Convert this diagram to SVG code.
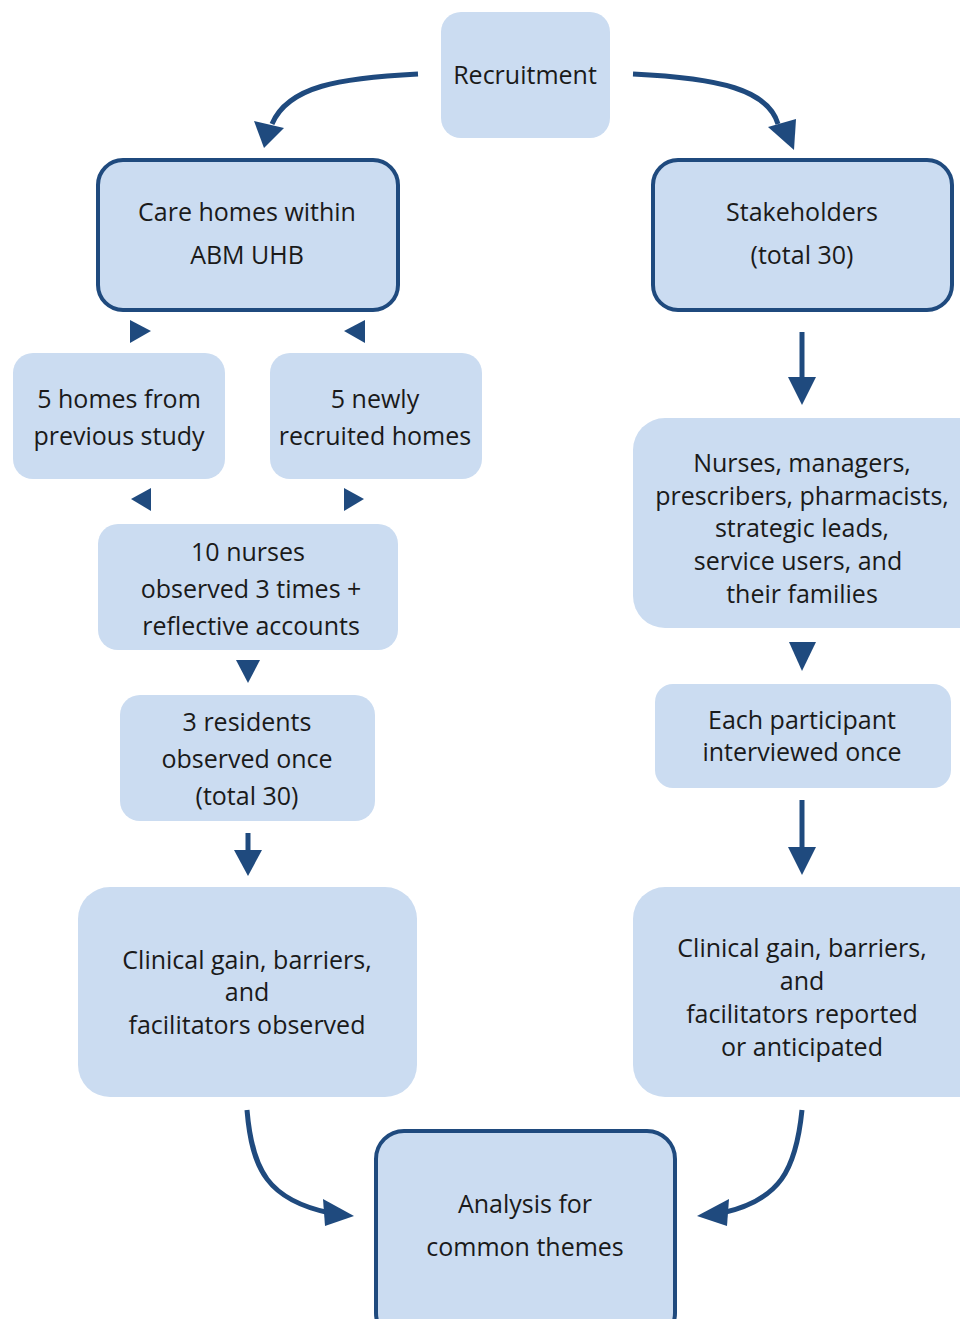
<svg xmlns="http://www.w3.org/2000/svg" width="960" height="1319" viewBox="0 0 960 1319">
<style>
.box{fill:#cbdcf1;}
.bord{fill:#cbdcf1;stroke:#1f4a7e;stroke-width:4;}
.t{font-family:"Open Sans","Noto Sans",sans-serif;font-size:25px;fill:#1a1a1a;text-anchor:middle;}
.ln{fill:none;stroke:#1f4a7e;stroke-width:5;}
.hd{fill:#1f4a7e;}
</style>
<rect width="960" height="1319" fill="#ffffff"/>
<g id="recruitment"><rect class="box" x="441" y="12" width="169" height="126" rx="20"/><text class="t" x="525" y="84">Recruitment</text></g>
<g id="carehomes"><rect class="bord" x="98" y="160" width="300" height="150" rx="25"/><text class="t" x="247" y="221">Care homes within</text><text class="t" x="247" y="264">ABM UHB</text></g>
<g id="stakeholders"><rect class="bord" x="653" y="160" width="299" height="150" rx="25"/><text class="t" x="802" y="221">Stakeholders</text><text class="t" x="802" y="264">(total 30)</text></g>
<g id="prevhomes"><rect class="box" x="13" y="353" width="212" height="126" rx="20"/><text class="t" x="119" y="408">5 homes from</text><text class="t" x="119" y="445">previous study</text></g>
<g id="newhomes"><rect class="box" x="270" y="353" width="212" height="126" rx="20"/><text class="t" x="375" y="408">5 newly</text><text class="t" x="375" y="445">recruited homes</text></g>
<g id="nurses"><rect class="box" x="98" y="524" width="300" height="126" rx="20"/><text class="t" x="248" y="561">10 nurses</text><text class="t" x="251" y="598">observed 3 times +</text><text class="t" x="251" y="635">reflective accounts</text></g>
<g id="residents"><rect class="box" x="120" y="695" width="255" height="126" rx="20"/><text class="t" x="247" y="731">3 residents</text><text class="t" x="247" y="768">observed once</text><text class="t" x="247" y="805">(total 30)</text></g>
<g id="clinicalleft"><rect class="box" x="78" y="887" width="339" height="210" rx="32"/><text class="t" x="247" y="969">Clinical gain, barriers,</text><text class="t" x="247" y="1001">and</text><text class="t" x="247" y="1034">facilitators observed</text></g>
<g id="stakelist"><rect class="box" x="633" y="418" width="360" height="210" rx="32"/><text class="t" x="802" y="472">Nurses, managers,</text><text class="t" x="802" y="505">prescribers, pharmacists,</text><text class="t" x="802" y="537">strategic leads,</text><text class="t" x="798" y="570">service users, and</text><text class="t" x="802" y="603">their families</text></g>
<g id="interviewed"><rect class="box" x="655" y="684" width="296" height="104" rx="18"/><text class="t" x="802" y="729">Each participant</text><text class="t" x="802" y="761">interviewed once</text></g>
<g id="clinicalright"><rect class="box" x="633" y="887" width="360" height="210" rx="32"/><text class="t" x="802" y="957">Clinical gain, barriers,</text><text class="t" x="802" y="990">and</text><text class="t" x="802" y="1023">facilitators reported</text><text class="t" x="802" y="1056">or anticipated</text></g>
<g id="analysis"><rect class="bord" x="376" y="1131" width="299" height="210" rx="28"/><text class="t" x="525" y="1213">Analysis for</text><text class="t" x="525" y="1256">common themes</text></g>
<g id="connectors">
<path class="ln" d="M418,74 C340,78 288,86 272,124"/>
<polygon class="hd" points="254,121 284,128 264,148"/>
<path class="ln" d="M633,74 C720,78 768,90 778,124"/>
<polygon class="hd" points="768,127 796,119 794,150"/>
<polygon class="hd" points="130,320 151,331 130,343"/>
<polygon class="hd" points="365,320 344,331 365,343"/>
<polygon class="hd" points="151,488 131,499 151,511"/>
<polygon class="hd" points="344,488 364,499 344,511"/>
<polygon class="hd" points="236,660 260,660 248,683"/>
<line class="ln" x1="248" y1="833" x2="248" y2="852"/>
<polygon class="hd" points="234,850 262,850 248,876"/>
<line class="ln" x1="802" y1="332" x2="802" y2="380"/>
<polygon class="hd" points="788,377 816,377 802,405"/>
<polygon class="hd" points="789,642 816,642 802,671"/>
<line class="ln" x1="802" y1="800" x2="802" y2="850"/>
<polygon class="hd" points="788,847 816,847 802,875"/>
<path class="ln" d="M247,1110 C252,1170 268,1200 330,1213"/>
<polygon class="hd" points="323,1199 354,1216 325,1226"/>
<path class="ln" d="M802,1110 C796,1170 780,1200 722,1213"/>
<polygon class="hd" points="729,1199 697,1216 727,1226"/>
</g>
</svg>
